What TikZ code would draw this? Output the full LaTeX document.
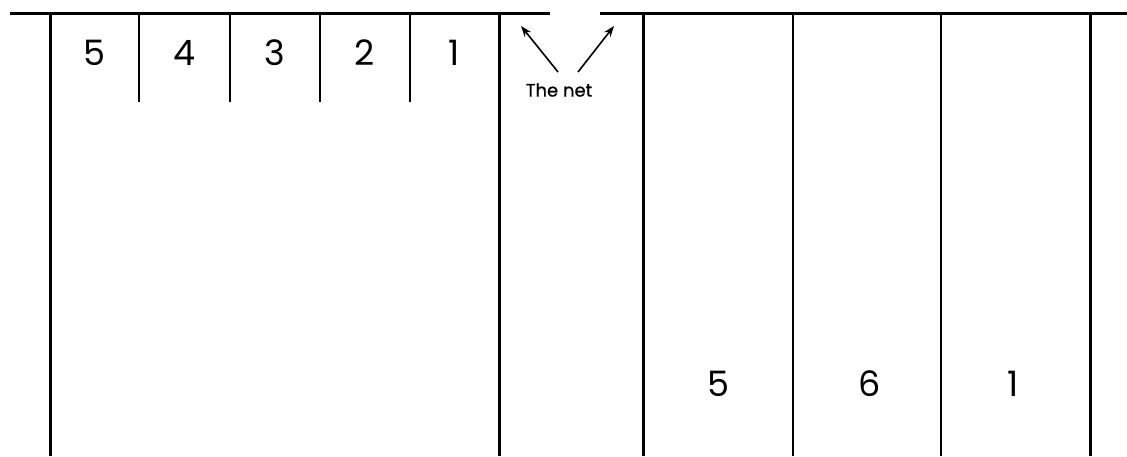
\documentclass[tikz,border=0pt]{standalone}
\usepackage{fontspec}
\setmainfont{Poppins}
\newfontfamily\netfont[FakeBold=0.8]{Poppins}
\usetikzlibrary{arrows.meta}
\begin{document}
\begin{tikzpicture}[x=1pt,y=-1pt,
  thickline/.style={line width=3pt},
  thinline/.style={line width=1.4pt},
  midline/.style={line width=2.2pt},
  num/.style={font=\fontsize{35}{35}\selectfont, inner sep=0pt},
  lbl/.style={font=\netfont\fontsize{18}{18}\selectfont, inner sep=0pt},
  netarrow/.style={line width=1.6pt,-{Stealth[length=11pt,width=8pt]}}]
\useasboundingbox (0,0) rectangle (1127,456);
% top line with gap
\draw[thickline] (10,13) -- (550,13);
\draw[thickline] (600,13) -- (1127,13);
% walls
\foreach \x in {50,499,643,1090} \draw[thickline] (\x,13) -- (\x,456);
\foreach \x in {793,941} \draw[midline] (\x,13) -- (\x,456);
% short dividers
\foreach \x in {139,230,320,410} \draw[thinline] (\x,13) -- (\x,102);
% top numbers
\node[num] (t5) at (94,53) {5};
\node[num] (t4) at (185,53) {4};
\node[num] (t3) at (275,53) {3};
\node[num] (t2) at (365,53) {2};
\node[num] (t1) at (454,53) {1};
% bottom numbers
\node[num] (b5) at (718,384) {5};
\node[num] (b6) at (870,384) {6};
\node[num] (b1) at (1013,384) {1};
% the net
\node[lbl] (net) at (559,90) {The net};
\coordinate (la) at (521,26);
\coordinate (ra) at (614,26);
\draw[netarrow] (558,72) -- (la);
\draw[netarrow] (578,72) -- (ra);
\end{tikzpicture}
\end{document}
